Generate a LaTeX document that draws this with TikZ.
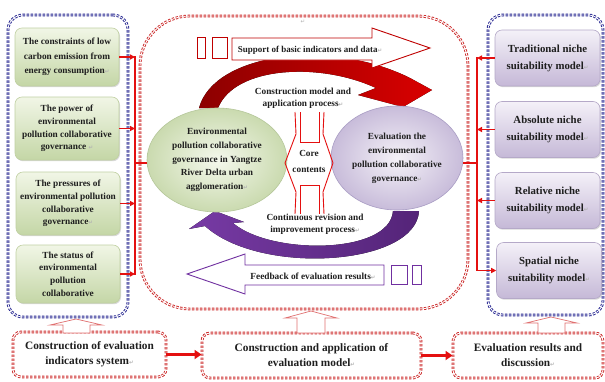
\documentclass[tikz,border=0pt]{standalone}
\usepackage{fontspec}
\setmainfont{Liberation Serif}
\newfontfamily\symfont{DejaVu Sans}
\usetikzlibrary{shapes.geometric,arrows.meta,shadows,calc}
\newcommand{\rmark}{{\symfont\fontsize{5.5}{5.5}\selectfont\color{black!30}↵}}
\definecolor{blueD}{HTML}{23238F}
\definecolor{redD}{HTML}{CC2A2A}
\definecolor{redC}{HTML}{E41010}
\definecolor{redL}{HTML}{E07070}
\definecolor{redO}{HTML}{C00000}
\definecolor{purO}{HTML}{7030A0}
\definecolor{gTop}{HTML}{F1F6E6}
\definecolor{gBot}{HTML}{C4D6A6}
\definecolor{gEdge}{HTML}{C0D0A2}
\definecolor{pTop}{HTML}{F4F1F8}
\definecolor{pBot}{HTML}{C5B8D7}
\definecolor{pEdge}{HTML}{B5A9C8}
\definecolor{gIn}{HTML}{F4F8EC}
\definecolor{gOut}{HTML}{CADAAF}
\definecolor{gEll}{HTML}{B5C79A}
\definecolor{pIn}{HTML}{F4F1F7}
\definecolor{pOut}{HTML}{C8BCDA}
\definecolor{pEll}{HTML}{A99DC4}
\definecolor{txtc}{HTML}{1E1E1E}
\begin{document}
\begin{tikzpicture}[x=1pt,y=-1pt,
  txt/.style={font=\bfseries\fontsize{9.3}{11.5}\selectfont, text=txtc, align=center, inner sep=0pt},
  grpblue/.style={rectangle, draw=blueD, line width=0.95pt, double=white, double distance=0.9pt, dash pattern=on 2.4pt off 1.6pt, rounded corners=15pt, inner sep=0pt},
  grpred/.style={grpblue, draw=redD},
  gbox/.style={rectangle, rounded corners=7pt, draw=gEdge, line width=0.6pt, top color=gTop, bottom color=gBot, minimum width=104pt, minimum height=58pt, align=center, text=txtc, font=\bfseries\fontsize{9.3}{12.7}\selectfont, inner sep=1pt, drop shadow={shadow xshift=1pt,shadow yshift=-1.2pt,opacity=0.3}},
  pbox/.style={gbox, draw=pEdge, top color=pTop, bottom color=pBot, minimum width=105pt, minimum height=56pt, font=\bfseries\fontsize{10.8}{17}\selectfont},
  bbox/.style={grpred, rounded corners=8pt, align=center, text=txtc, font=\bfseries\fontsize{11.3}{15}\selectfont, minimum height=45pt},
  conn/.style={draw=redC, line width=1.3pt},
  connarr/.style={conn, -{Triangle[length=5pt,width=5pt]}},
  bigarr/.style={draw=redC, line width=2.6pt, -{Triangle[length=7pt,width=9pt]}},
  uparr/.style={draw=redL, line width=0.7pt, fill=white},
  blockout/.style={line width=0.9pt, fill=white, line join=miter},
  coreline/.style={draw=redC, line width=0.9pt},
]
\useasboundingbox (0,0) rectangle (605,381);
\fill[white] (0,0) rectangle (605,381);

% groups
\node[grpblue, minimum width=120pt, minimum height=302pt] (LG) at (68,166) {};
\node[grpblue, minimum width=115pt, minimum height=300pt] (RG) at (545.5,165) {};
\node[grpred, rounded corners=50pt, minimum width=328pt, minimum height=293pt] (CG) at (304,162.5) {};
\node[inner sep=0pt] (ret) at (303,22) {\rmark};

% left boxes
\node[gbox, font=\bfseries\fontsize{9.3}{14.5}\selectfont] (L1) at (67,57) {The constraints of low\\carbon emission from\\energy consumption\rmark};
\node[gbox, minimum height=63pt] (L2) at (67,128.5) {The power of\\environmental\\pollution collaborative\\governance \rmark};
\node[gbox, minimum height=63pt] (L3) at (68,203.5) {The pressures of\\environmental pollution\\collaborative\\governance\rmark};
\node[gbox] (L4) at (68,274) {The status of\\environmental\\pollution\\collaborative};

% right boxes
\node[pbox] (R1) at (547.5,58) {Traditional niche\\suitability model\rmark};
\node[pbox] (R2) at (547.5,129.5) {Absolute niche\\suitability model\rmark};
\node[pbox] (R3) at (547.5,200.5) {Relative niche\\suitability model\rmark};
\node[pbox] (R4) at (549,270.5) {Spatial niche\\suitability model\rmark};

% curved red arrow
\fill[left color=red!55!black, right color=red!85!black]
  (199,108) .. controls (214,53) and (330,38) .. (410,78)
  -- (432,90) -- (403,107) -- (358,95) -- (376,88)
  .. controls (320,62) and (235,66) .. (218,108) -- cycle;
% curved purple arrow
\fill[left color=purO!95!white, right color=purO!75!black]
  (393,211) .. controls (390,255) and (270,255) .. (233,223)
  -- (244,222) -- (215,211) -- (189,229) -- (205,226)
  .. controls (260,276) and (416,266) .. (419,211) -- cycle;

% top outline arrow
\draw[blockout, draw=redO] (232,38) -- (372,38) -- (372,28) -- (430,48) -- (372,68) -- (372,60) -- (232,60) -- cycle;
\draw[blockout, draw=redO] (197,37) rectangle (205,58);
\draw[blockout, draw=redO] (212,37) rectangle (227,58);
\node[txt, font=\bfseries\fontsize{9}{11}\selectfont] (sup) at (310,50) {Support of basic indicators and data\rmark};

% bottom outline arrow
\draw[blockout, draw=purO] (384,265) -- (245,265) -- (245,254) -- (187,274) -- (245,294) -- (245,285) -- (384,285) -- cycle;
\draw[blockout, draw=purO] (391,265) rectangle (407,284);
\draw[blockout, draw=purO] (412,265) rectangle (421,284);
\node[txt] (fbk) at (313,276) {Feedback of evaluation results\rmark};

% ellipses
\node[ellipse, draw=gEll, line width=0.6pt, inner color=gIn, outer color=gOut, minimum width=140pt, minimum height=104pt, inner sep=0pt, align=center, text=txtc, font=\bfseries\fontsize{9.3}{13.75}\selectfont] (LE) at (217,160) {Environmental\\pollution collaborative\\governance in Yangtze\\River Delta urban\\agglomeration\rmark};
\node[ellipse, draw=pEll, line width=0.6pt, inner color=pIn, outer color=pOut, minimum width=132pt, minimum height=104pt, inner sep=0pt, align=center, text=txtc, font=\bfseries\fontsize{9.3}{14}\selectfont] (RE) at (397,158) {Evaluation the\\environmental\\pollution collaborative\\governance\rmark};

% core contents shape
\draw[coreline] (295,112) -- (296,134) -- (285,163) -- (296,192) -- (295,214);
\draw[coreline] (324,112) -- (323,134) -- (333,163) -- (323,192) -- (324,214);
\draw[coreline] (300,112) -- (300,142) -- (319,142) -- (319,112);
\draw[coreline] (300,214) -- (300,185) -- (319,185) -- (319,214);
\node[txt, font=\bfseries\fontsize{9.3}{16}\selectfont] (core) at (309,161) {Core\\contents};
\node[txt] (cmt) at (303,98.5) {Construction model and\\application process\rmark};
\node[txt] (crt) at (315,224.5) {Continuous revision and\\improvement process\rmark};

% buses
\coordinate (lbus) at (135,163);
\coordinate (rbus) at (477,163);
\foreach \n in {L1,L2,L3,L4} \draw[connarr] (\n.east) -- (\n.east -| lbus);
\draw[conn, line cap=rect] (L1.east -| lbus) -- (L4.east -| lbus);
\draw[conn] (lbus) -- (lbus -| LE.west);
\foreach \n in {R1,R2,R3} \draw[connarr] (\n.west) -- (\n.west -| rbus);
\draw[connarr] (R4.west -| rbus) -- (R4.west);
\draw[conn, line cap=rect] (R1.west -| rbus) -- (R4.west -| rbus);
\draw[conn] (rbus) -- (rbus -| RE.east);

% bottom boxes
\node[bbox, minimum width=153pt] (BA) at (89.5,354.5) {Construction of evaluation\\indicators system\rmark};
\node[bbox, minimum width=219pt] (BB) at (311.5,355.5) {Construction and application of\\evaluation model\rmark};
\node[bbox, minimum width=150pt] (BC) at (528,355.5) {Evaluation results and\\discussion\rmark};
\draw[bigarr] (BA.east) -- (BA.east -| BB.west);
\draw[bigarr] (BB.east) -- (BB.east -| BC.west);

% hollow up arrows
\draw[uparr] (50,325) -- (76,319) -- (102,325) -- (90,325) -- (90,333) -- (63,333) -- (63,325) -- cycle;
\draw[uparr] (285,318) -- (311,311) -- (337,318) -- (325,318) -- (325,333) -- (297,333) -- (297,318) -- cycle;
\draw[uparr] (526,323) -- (551,317) -- (577,323) -- (565,323) -- (565,333) -- (538,333) -- (538,323) -- cycle;
\end{tikzpicture}
\end{document}
